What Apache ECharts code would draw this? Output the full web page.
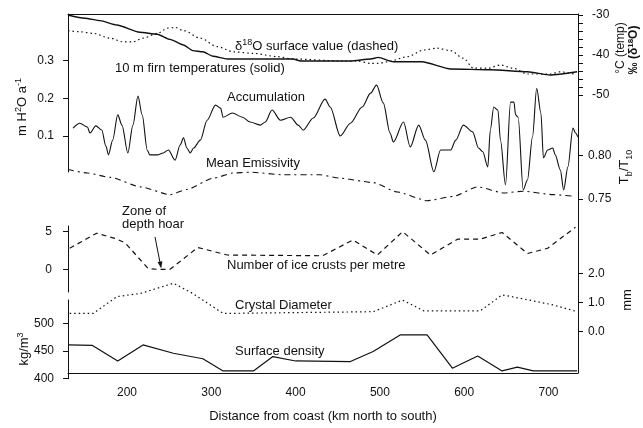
<!DOCTYPE html>
<html><head><meta charset="utf-8">
<script src="https://cdn.jsdelivr.net/npm/echarts@6/dist/echarts.min.js"></script>
<style>html,body{margin:0;padding:0;background:#fff}#c{width:643px;height:428px}</style>
</head><body><div id="c"></div>
<script>
// ---------- DATA ----------
const xTicks = [200, 300, 400, 500, 600, 700];

const tempKm = [130,150,168,188,215,236,251,267,278,290,302,319,397,406,465,489,498,516,550,584,631,675,702,734];
const tempC  = [-30,-30.8,-31.4,-32.5,-34.3,-34.8,-36.1,-37.5,-38.9,-39.2,-40.3,-41,-41,-41.5,-41.5,-41,-40.6,-41.7,-41.7,-43.5,-43.7,-44.2,-45,-44.2];

const d18Km  = [130,144,160,180,195,207,219,236,248,257,267,287,307,326,350,378,397,453,473,489,498,509,533,552,568,584,599,611,628,643,658,675,702,714,730];
const d18Val = [-33.9,-34.2,-34.6,-35.8,-36.7,-36.7,-35.8,-34.6,-33.3,-33.1,-33.9,-35.8,-37.9,-39.2,-39.6,-40.4,-41,-41.5,-41.5,-42.1,-42.1,-41.7,-40.4,-38.75,-38.3,-38.9,-40.8,-43.3,-43.3,-42.5,-43.3,-44.75,-44.75,-44.2,-44.75];

const accKm  = [136,144,153,156,163,170,175,178,183,189,194,201,207,213,218,224,227,236,243,249,257,263,267,271,275,279,287,295,305,311,314,325,337,346,358,364,372,382,394,403,409,421,435,441,453,465,479,489,496,504,512,516,528,536,546,554,564,572,584,590,599,610,617,622,628,631,635,640,643,649,655,659,661,664,670,675,681,686,691,694,699,705,708,714,718,723,729,732,735];
const accVal = [0.121,0.134,0.124,0.108,0.127,0.116,0.073,0.050,0.089,0.156,0.129,0.055,0.129,0.206,0.156,0.063,0.050,0.050,0.055,0.063,0.036,0.076,0.095,0.068,0.055,0.068,0.089,0.142,0.182,0.174,0.150,0.161,0.150,0.137,0.129,0.137,0.169,0.142,0.150,0.129,0.116,0.148,0.198,0.177,0.100,0.134,0.177,0.214,0.235,0.188,0.108,0.084,0.137,0.071,0.129,0.089,0.005,0.063,0.063,0.089,0.129,0.111,0.068,0.058,0.018,0.116,0.177,0.169,0.089,-0.030,0.190,0.190,0.156,0.150,-0.043,-0.017,0.097,0.227,0.161,0.042,0.063,0.068,0.050,0.010,-0.043,0.018,0.121,0.108,0.097];

const emKm  = [130,153,180,216,251,271,302,326,346,385,429,453,492,521,556,587,616,647,670,706,732];
const emVal = [0.784,0.780,0.775,0.764,0.755,0.761,0.774,0.780,0.781,0.778,0.778,0.774,0.769,0.758,0.748,0.753,0.764,0.757,0.759,0.755,0.753];

const iceKm  = [132,164,186,198,225,236,251,284,319,432,468,497,527,560,592,619,645,675,699,732];
const iceVal = [2.8,4.8,4.1,3.5,0.1,0,0,2.9,1.9,1.8,3.9,1.9,5.0,1.9,4.0,4.0,4.9,2.1,2.8,5.6];

const cdKm  = [132,160,188,216,255,278,314,492,527,552,619,645,667,706,734];
const cdVal = [0.63,0.63,1.21,1.32,1.67,1.32,0.63,0.69,1.09,0.72,0.72,1.27,1.15,0.92,0.69];

const denKm  = [130,159,189,219,255,290,314,350,373,400,465,492,524,556,586,616,645,663,682,734];
const denVal = [461,460,432,461,446,436,414,414,440,432,431,449,479,479,419,441,414,421,414,414];

// ---------- LAYOUT ----------
const FONT = '"Liberation Sans", Arial, Helvetica, sans-serif';
const INK = '#111';
const PL = 68, PR = 578, CW = 643, CH = 428;
const XMIN = 130, XMAX = 735;
const zip = (a, b) => a.map((v, i) => [v, b[i]]);

// Each data panel's grid spans exactly from its lowest to highest labelled tick
const panels = [
  { top:15,    bot:95,    side:'right', min:-50,  max:-30,  interval:2,    fmt:v => (Math.round(v) % 10 === 0 ? String(Math.round(v)) : ''), margin:14 },
  { top:60.7,  bot:136,   side:'left',  min:0.1,  max:0.3,  interval:0.1,  fmt:v => v.toFixed(1), margin:14 },
  { top:155.7, bot:199,   side:'right', min:0.75, max:0.80, interval:0.05, fmt:v => v.toFixed(2), margin:10 },
  { top:231.7, bot:269.3, side:'left',  min:0,    max:5,    interval:5,    fmt:v => String(Math.round(v)), margin:16 },
  { top:273.7, bot:331.7, side:'right', min:0,    max:2,    interval:1,    fmt:v => v.toFixed(1), margin:10 },
  { top:323.3, bot:378.7, side:'left',  min:400,  max:500,  interval:50,   fmt:v => String(Math.round(v)), margin:14 }
];
// left axis line segments (as in the original figure)
const axisSegs = [ [14, 172], [226, 292], [300, 378.7] ];

const grid = [{ left: PL, right: CW - PR, top: 14, bottom: CH - 378.7 }];
const xAxis = [
  { gridIndex:0, type:'value', min:XMIN, max:XMAX, position:'bottom',
    axisLine:{ show:true, lineStyle:{ color:INK, width:1 } },
    axisTick:{ show:false }, splitLine:{ show:false },
    axisLabel:{ customValues:xTicks, color:INK, fontFamily:FONT, fontSize:12, margin:14 },
    name:'Distance from coast (km north to south)', nameLocation:'middle', nameGap:37,
    nameTextStyle:{ color:INK, fontFamily:FONT, fontSize:13 } },
  { gridIndex:0, type:'value', min:XMIN, max:XMAX, position:'top',
    axisLine:{ show:true, lineStyle:{ color:INK, width:1 } },
    axisTick:{ show:false }, axisLabel:{ show:false }, splitLine:{ show:false } }
];
const yAxis = [
  { gridIndex:0, type:'value', min:0, max:1, position:'right',
    axisLine:{ show:true, lineStyle:{ color:INK, width:1 } },
    axisTick:{ show:false }, axisLabel:{ show:false }, splitLine:{ show:false } }
];

panels.forEach((p, i) => {
  const gi = grid.length;
  grid.push({ left: PL, right: CW - PR, top: p.top, height: p.bot - p.top });
  xAxis.push({ gridIndex:gi, type:'value', min:XMIN, max:XMAX, show:false });
  yAxis.push({
    gridIndex:gi, type:'value', min:p.min, max:p.max, interval:p.interval, position:p.side,
    axisLine:{ show:false },
    axisTick:{ show:true, length:5, lineStyle:{ color:INK, width:1 } },
    axisLabel:{ formatter:p.fmt, color:INK, fontFamily:FONT, fontSize:12, margin:p.margin, showMinLabel:true, showMaxLabel:true },
    splitLine:{ show:false }
  });
});
axisSegs.forEach(s => {
  const gi = grid.length;
  grid.push({ left: PL, right: CW - PR, top: s[0], height: s[1] - s[0] });
  xAxis.push({ gridIndex:gi, type:'value', min:XMIN, max:XMAX, show:false });
  yAxis.push({ gridIndex:gi, type:'value', min:0, max:1, position:'left',
    axisLine:{ show:true, onZero:false, lineStyle:{ color:INK, width:1 } },
    axisTick:{ show:false }, axisLabel:{ show:false }, splitLine:{ show:false } });
});

// panel n (1..6) uses xAxis n+1 and yAxis n
function lineSeries(n, data, type, width, smooth) {
  return {
    type:'line', xAxisIndex:n + 1, yAxisIndex:n, data, showSymbol:false, symbol:'none',
    clip:false, smooth:smooth || false, smoothMonotone:'x', animation:false,
    lineStyle:{ color:INK, width:width, type:type }
  };
}

const series = [
  lineSeries(1, zip(tempKm, tempC), 'solid', 1.4, 0.2),
  lineSeries(1, zip(d18Km, d18Val), [1.5, 3], 1.2, 0.3),
  lineSeries(2, zip(accKm, accVal), 'solid', 1.1, 0.3),
  lineSeries(3, zip(emKm, emVal), [6, 4, 2, 4], 1.1, 0.2),
  lineSeries(4, zip(iceKm, iceVal), [5, 4], 1.2, false),
  lineSeries(5, zip(cdKm, cdVal), [1.5, 3], 1.2, false),
  lineSeries(6, zip(denKm, denVal), 'solid', 1.2, false)
];

function txt(text, x, y, opts) {
  opts = opts || {};
  return {
    type:'text', x, y, rotation: opts.rot || 0, silent:true,
    style: Object.assign({ text, font: (opts.size || 13) + 'px ' + FONT, fill: INK,
      align: opts.align || 'left', verticalAlign: 'middle',
      textAlign: opts.align || 'left', textVerticalAlign: 'middle' }, opts.rich ? { rich: opts.rich } : {})
  };
}
const richSet = {
  n:  { fontFamily: FONT, fontSize: 13, color: INK, lineHeight: 16, verticalAlign: 'bottom' },
  s:  { fontFamily: FONT, fontSize: 9,  color: INK, lineHeight: 16, verticalAlign: 'bottom', padding: [0, 0, 6, 0] },
  b:  { fontFamily: FONT, fontSize: 9,  color: INK, lineHeight: 16, verticalAlign: 'bottom', padding: [0, 0, -3, 0] }
};

const graphic = [
  txt('{n|δ}{s|18}{n|O surface value (dashed)}', 235, 45, { rich: richSet }),
  txt('10 m firn temperatures (solid)', 115, 68),
  txt('Accumulation', 227, 97),
  txt('Mean Emissivity', 206, 163),
  txt('Zone of', 122, 211),
  txt('depth hoar', 122, 224),
  txt('Number of ice crusts per metre', 227, 265),
  txt('Crystal Diameter', 235, 305),
  txt('Surface density', 235, 351),
  txt('{n|m H}{s|2}{n|O a}{s|-1}', 21, 107, { rot: Math.PI / 2, align: 'center', rich: richSet }),
  txt('{n|kg/m}{s|3}', 23, 349, { rot: Math.PI / 2, align: 'center', rich: richSet }),
  txt('°C (temp)', 621, 48, { rot: Math.PI / 2, align: 'center', size: 12 }),
  txt('{n|‰ (δ}{s|18}{n|O)}', 633, 50, { rot: Math.PI / 2, align: 'center', rich: {
      n: { fontFamily: FONT, fontSize: 12, fontWeight: 'bold', color: INK, lineHeight: 14, verticalAlign: 'bottom' },
      s: { fontFamily: FONT, fontSize: 8, fontWeight: 'bold', color: INK, lineHeight: 14, verticalAlign: 'bottom', padding: [0,0,5,0] } } }),
  txt('{n|T}{b|b}{n|/T}{b|10}', 623, 167, { rot: Math.PI / 2, align: 'center', rich: richSet }),
  txt('mm', 627, 300, { rot: Math.PI / 2, align: 'center' }),
  { type:'line', silent:true, shape:{ x1:155, y1:237, x2:160.5, y2:265 }, style:{ stroke:INK, lineWidth:1 } },
  { type:'polygon', silent:true, shape:{ points:[[161.2,268.5],[157.6,262],[162.4,261.2]] }, style:{ fill:INK } }
];

const chart = echarts.init(document.getElementById('c'), null, { renderer:'canvas' });
chart.setOption({ animation:false, backgroundColor:'#fff', grid, xAxis, yAxis, series, graphic });
</script>
</body></html>
